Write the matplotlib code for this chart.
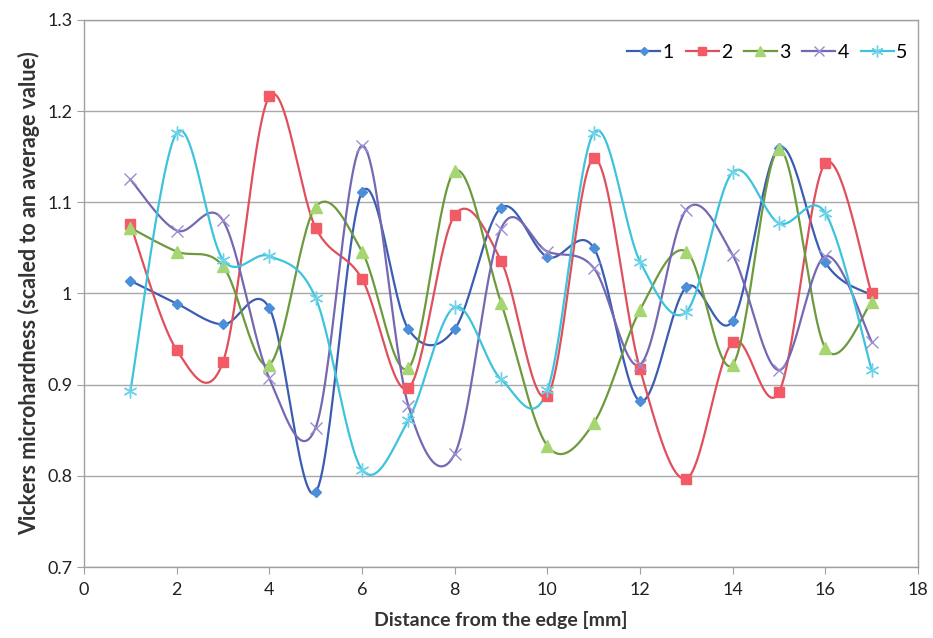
import numpy as np
import matplotlib
matplotlib.use('Agg')
import matplotlib.pyplot as plt
from matplotlib.lines import Line2D

plt.rcParams['font.family'] = ['Lato', 'DejaVu Sans']

# data
distance = [1, 2, 3, 4, 5, 6, 7, 8, 9, 10, 11, 12, 13, 14, 15, 16, 17]
s1 = [1.014, 0.989, 0.966, 0.984, 0.782, 1.111, 0.961, 0.961, 1.094, 1.040, 1.050, 0.882, 1.007, 0.970, 1.160, 1.034, 0.998]
s2 = [1.076, 0.938, 0.925, 1.216, 1.072, 1.016, 0.896, 1.086, 1.036, 0.888, 1.148, 0.917, 0.797, 0.947, 0.892, 1.143, 1.000]
s3 = [1.072, 1.046, 1.030, 0.922, 1.095, 1.046, 0.918, 1.134, 0.990, 0.833, 0.858, 0.982, 1.046, 0.922, 1.158, 0.940, 0.991]
s4 = [1.125, 1.069, 1.080, 0.907, 0.853, 1.162, 0.877, 0.824, 1.071, 1.046, 1.028, 0.922, 1.092, 1.042, 0.916, 1.041, 0.947]
s5 = [0.893, 1.176, 1.037, 1.041, 0.995, 0.807, 0.861, 0.985, 0.906, 0.894, 1.176, 1.035, 0.980, 1.133, 1.077, 1.088, 0.916]
labels = ['1', '2', '3', '4', '5']

line_colors = ['#3B5CB3', '#E0505C', '#6C9A3C', '#7568B2', '#3EC3DC']
mark_colors = ['#4A8FD8', '#F25A66', '#A6D672', '#9A8ED0', '#6ED2E8']
markers = ['D', 's', '^', 'x', (6, 2, 0)]
msizes = [5, 7.5, 8, 9, 10]


def smooth(x, y, n=30):
    # Excel-like smoothed line: cubic bezier through points (catmull-rom tangents)
    p = np.column_stack([x, y]).astype(float)
    ext = np.vstack([p[0], p, p[-1]])
    t = np.linspace(0, 1, n)[:, None]
    out = []
    for i in range(len(p) - 1):
        p0, p1, p2, p3 = ext[i], ext[i + 1], ext[i + 2], ext[i + 3]
        c1 = p1 + (p2 - p0) / 6
        c2 = p2 - (p3 - p1) / 6
        seg = ((1 - t) ** 3) * p1 + 3 * ((1 - t) ** 2) * t * c1 + 3 * (1 - t) * t ** 2 * c2 + t ** 3 * p2
        out.append(seg if i == 0 else seg[1:])
    out = np.vstack(out)
    return out[:, 0], out[:, 1]


fig = plt.figure(figsize=(9.33, 6.38), dpi=100)
ax = fig.add_axes([0.090, 0.111, 0.894, 0.858])

handles = []
for ys, lc, mc, m, ms, lab in zip([s1, s2, s3, s4, s5], line_colors, mark_colors, markers, msizes, labels):
    sx, sy = smooth(distance, ys)
    ax.plot(sx, sy, color=lc, lw=1.6, zorder=3)
    if m in ('D', 's', '^'):
        ax.plot(distance, ys, linestyle='none', marker=m, ms=ms, color=mc, mec=mc, zorder=4)
    else:
        ax.plot(distance, ys, linestyle='none', marker=m, ms=ms, color=mc, mew=1.0, zorder=4)
    handles.append(Line2D([], [], color=lc, lw=1.6, marker=m, ms=ms * 0.85, mfc=mc, mec=mc, mew=1.0, label=lab))

ax.set_xlim(0, 18)
ax.set_ylim(0.7, 1.3)
ax.set_xticks(range(0, 19, 2))
ax.set_yticks([0.7, 0.8, 0.9, 1.0, 1.1, 1.2, 1.3])
ax.set_yticklabels(['0.7', '0.8', '0.9', '1', '1.1', '1.2', '1.3'])
ax.grid(axis='y', color='#A8A8A8', lw=1.0)
ax.set_axisbelow(True)
for s in ax.spines.values():
    s.set_color('#A0A0A0')
    s.set_linewidth(1.0)
ax.tick_params(axis='both', colors='#A0A0A0', labelcolor='#222222', labelsize=13, length=5, direction='out')
ax.tick_params(axis='x', pad=6)

ax.set_xlabel('Distance from the edge [mm]', fontsize=14, fontweight='bold', color='#333333', labelpad=9)
ax.set_ylabel('Vickers microhardness (scaled to an average value)', fontsize=15.5, fontweight='bold', color='#333333', labelpad=5)

ax.legend(handles=handles, loc='upper right', ncol=5, frameon=False, fontsize=14,
          handlelength=1.7, handletextpad=0.12, columnspacing=0.6,
          bbox_to_anchor=(1.0, 0.975), borderaxespad=0.15)

plt.savefig('out.png', dpi=100)
